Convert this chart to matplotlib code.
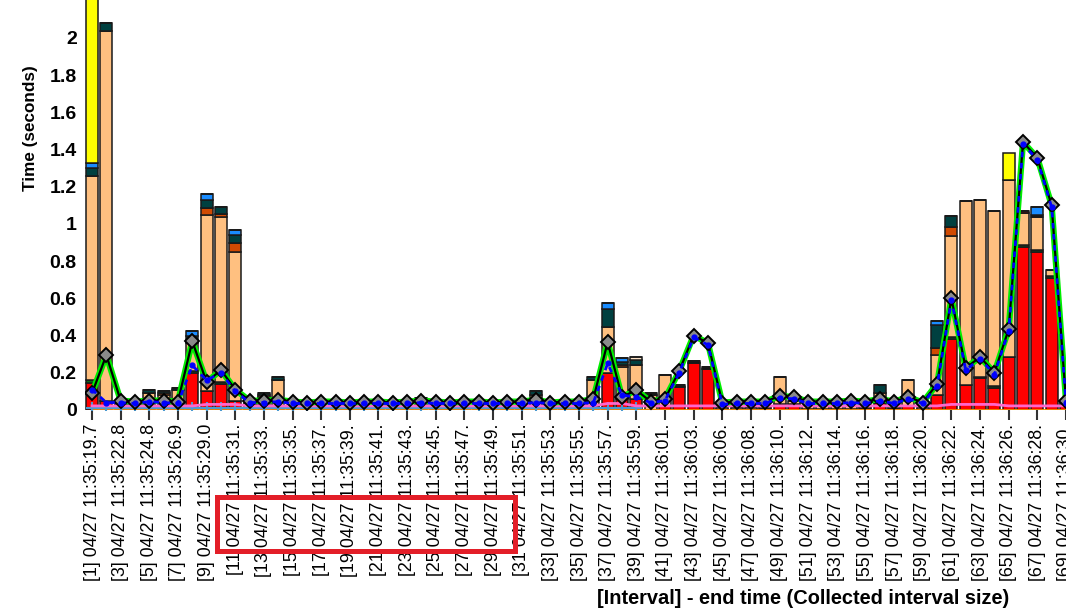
import numpy as np
import matplotlib.pyplot as plt
from matplotlib.patches import Rectangle

plt.rcParams['font.family'] = ['Liberation Sans', 'DejaVu Sans']

intervals = list(range(1, 70))

tick_labels = [
    '[1] 04/27 11:35:19.7', '[3] 04/27 11:35:22.8', '[5] 04/27 11:35:24.8',
    '[7] 04/27 11:35:26.9', '[9] 04/27 11:35:29.0', '[11 04/27 11:35:31.',
    '[13 04/27 11:35:33.', '[15 04/27 11:35:35.', '[17 04/27 11:35:37.',
    '[19 04/27 11:35:39.', '[21 04/27 11:35:41.', '[23 04/27 11:35:43.',
    '[25 04/27 11:35:45.', '[27 04/27 11:35:47.', '[29 04/27 11:35:49.',
    '[31 04/27 11:35:51.', '[33] 04/27 11:35:53.', '[35] 04/27 11:35:55.',
    '[37] 04/27 11:35:57.', '[39] 04/27 11:35:59.', '[41] 04/27 11:36:01.',
    '[43] 04/27 11:36:03.', '[45] 04/27 11:36:06.', '[47] 04/27 11:36:08.',
    '[49] 04/27 11:36:10.', '[51] 04/27 11:36:12.', '[53] 04/27 11:36:14.',
    '[55] 04/27 11:36:16.', '[57] 04/27 11:36:18.', '[59] 04/27 11:36:20.',
    '[61] 04/27 11:36:22.', '[63] 04/27 11:36:24.', '[65] 04/27 11:36:26.',
    '[67] 04/27 11:36:28.', '[69] 04/27 11:36:30.',
]

# stacked components (seconds), one value per interval
red = [
    .145, .05, .01, .01, .02, .02, .01, .2, .1, .14,
    .05, .01, .02, .01, .01, .005, .005, .005, .005, .005,
    .005, .005, .005, .01, .005, .005, .005, .005, .005, .005,
    .005, .01, .005, .005, .01, .02, .2, .06, .06, 0,
    .02, .125, .25, .22, .005, .005, .005, .01, .03, .03,
    .005, .005, .005, .005, .01, .04, .01, .02, .005, .08,
    .38, .135, .17, .12, .285, .875, .85, .71, .03]
peach = [
    1.10, 1.99, .02, .015, .07, .06, .10, .15, .95, .89,
    .80, .02, .05, .15, .015, .015, .015, .015, .015, .015,
    .015, .015, .015, .035, .015, .015, .015, .015, .015, .015,
    .015, .07, .015, .015, .015, .14, .245, .17, .18, .08,
    .17, 0, 0, 0, .01, .01, .01, .01, .15, .02,
    .015, .015, .015, .015, .015, .05, .015, .14, .01, .215,
    .545, .988, .95, .94, .95, .175, .18, .033, .02]
# sparse components: {interval: seconds}
green = {1: .015, 8: .01, 10: .01, 61: .01, 63: .01, 64: .01, 66: .01, 67: .01, 68: .01}
orange = {6: .01, 9: .035, 10: .015, 11: .05, 13: .01, 38: .01, 60: .04, 61: .05}
darkred = {66: .01}
teal = {1: .04, 2: .04, 3: .01, 4: .01, 5: .02, 6: .01, 7: .01, 8: .04, 9: .045, 10: .035,
        11: .04, 12: .01, 13: .01, 14: .02, 32: .02, 36: .02, 37: .10, 38: .02, 39: .03,
        56: .045, 60: .12, 61: .058}
black = {24: .02, 40: .01, 42: .01, 43: .015, 44: .01, 67: .01}
blue = {1: .03, 8: .025, 9: .03, 11: .03, 37: .03, 38: .02, 60: .025, 67: .04}
lightpeach = {39: .015}
yellow = {1: 1.0, 65: .145}

# line series
line_main = [
    .09, .295, .05, .045, .05, .05, .045, .37, .15, .215,
    .11, .05, .05, .055, .045, .04, .045, .045, .04, .045,
    .045, .04, .045, .05, .045, .04, .045, .045, .04, .045,
    .045, .055, .04, .045, .045, .06, .365, .07, .107, .045,
    .06, .21, .40, .36, .04, .045, .045, .045, .075, .07,
    .045, .045, .045, .05, .045, .06, .045, .07, .04, .14,
    .60, .225, .285, .20, .435, 1.44, 1.355, 1.10, .05]
line_blue = [
    .11, .04, .04, .035, .045, .04, .035, .24, .16, .20,
    .10, .04, .04, .045, .035, .035, .035, .035, .035, .035,
    .035, .035, .035, .04, .035, .035, .035, .035, .035, .035,
    .035, .04, .035, .035, .035, .04, .25, .08, .07, .04,
    .05, .20, .39, .35, .03, .035, .035, .035, .065, .06,
    .035, .035, .035, .04, .035, .05, .035, .06, .035, .13,
    .59, .215, .275, .19, .425, 1.43, 1.345, 1.09, .04]
line_pink = [
    .022, .022, .022, .022, .022, .022, .022, .022, .03, .03,
    .03, .022, .022, .022, .022, .022, .022, .022, .022, .022,
    .022, .022, .022, .022, .022, .022, .022, .022, .022, .022,
    .022, .022, .022, .022, .022, .022, .035, .035, .022, .022,
    .022, .022, .022, .022, .022, .022, .022, .022, .022, .022,
    .022, .022, .022, .022, .022, .022, .022, .022, .022, .022,
    .03, .03, .03, .03, .022, .022, .022, .022, .022]
line_lightblue = [.012] * 39 + [np.nan] * 30
line_orange = [0.0] * 69


def dense(d):
    return np.array([d.get(i, 0.0) for i in intervals])


stack = [
    (np.array(red), '#FF0000'),
    (dense(green), '#0B6B1A'),
    (np.array(peach), '#FFC080'),
    (dense(orange), '#D04A02'),
    (dense(darkred), '#8B0000'),
    (dense(teal), '#004040'),
    (dense(black), '#111111'),
    (dense(blue), '#1A8CFF'),
    (dense(lightpeach), '#FFE4C8'),
    (dense(yellow), '#FFFF00'),
]

fig = plt.figure(figsize=(10.66, 6.08), dpi=100)
ax = fig.add_axes([85 / 1066, 198 / 608, 981 / 1066, 410 / 608])

x = np.array(intervals)
bottom = np.zeros(len(x))
for vals, col in stack:
    ax.bar(x, vals, bottom=bottom, width=0.84, color=col,
           edgecolor='#1a1a1a', linewidth=1.1, zorder=2)
    bottom = bottom + vals

ax.plot(x, line_orange, color='#FF8C00', lw=2, zorder=3)
ax.plot(x, line_lightblue, color='#4A9AD0', lw=1.5, marker='+', ms=9, mew=1.5, zorder=3)
ax.plot(x, line_pink, color='#FF66CC', lw=2, zorder=3)
ax.plot(x, line_main, color='#00EE00', lw=4.5, zorder=4, solid_joinstyle='round')
ax.plot(x, line_main, color='black', lw=1.6, zorder=5)
ax.plot(x, line_main, ls='none', marker='D', ms=7.5, mfc='#8A8A8A', mec='black', mew=1.4, zorder=6)
ax.plot(x, line_blue, color='#0000FF', lw=2, ls=(0, (2, 2)), marker='o', ms=3.5, zorder=7)

ax.set_xlim(0.51, 68.83)
ax.set_ylim(0, 2.204)
ax.set_yticks(np.arange(0, 2.01, 0.2))
ax.set_yticklabels(['0', '0.2', '0.4', '0.6', '0.8', '1', '1.2', '1.4', '1.6', '1.8', '2'],
                   fontsize=14, fontweight='bold')
ax.tick_params(axis='y', length=0, pad=6)
ax.set_xticks(x[::2])
ax.set_xticklabels(tick_labels, rotation=90, fontsize=12.9, va='top', ha='center')
ax.tick_params(axis='x', length=7, width=1.5, color='#333333', pad=3)
for s in ax.spines.values():
    s.set_visible(False)

fig.text(30 / 1066, 1 - 128 / 608, 'Time (seconds)', rotation=90, fontsize=12.3,
         fontweight='bold', ha='center', va='center')
fig.text(803 / 1066, 1 - 598 / 608, '[Interval] - end time (Collected interval size)',
         fontsize=14.4, fontweight='bold', ha='center', va='center')

fig.patches.append(Rectangle((217 / 1066, 1 - 551 / 608), 298 / 1066, 54 / 608,
                             transform=fig.transFigure, fill=False,
                             edgecolor='#E31E28', linewidth=3.6))

fig.savefig('out.png', dpi=100)
